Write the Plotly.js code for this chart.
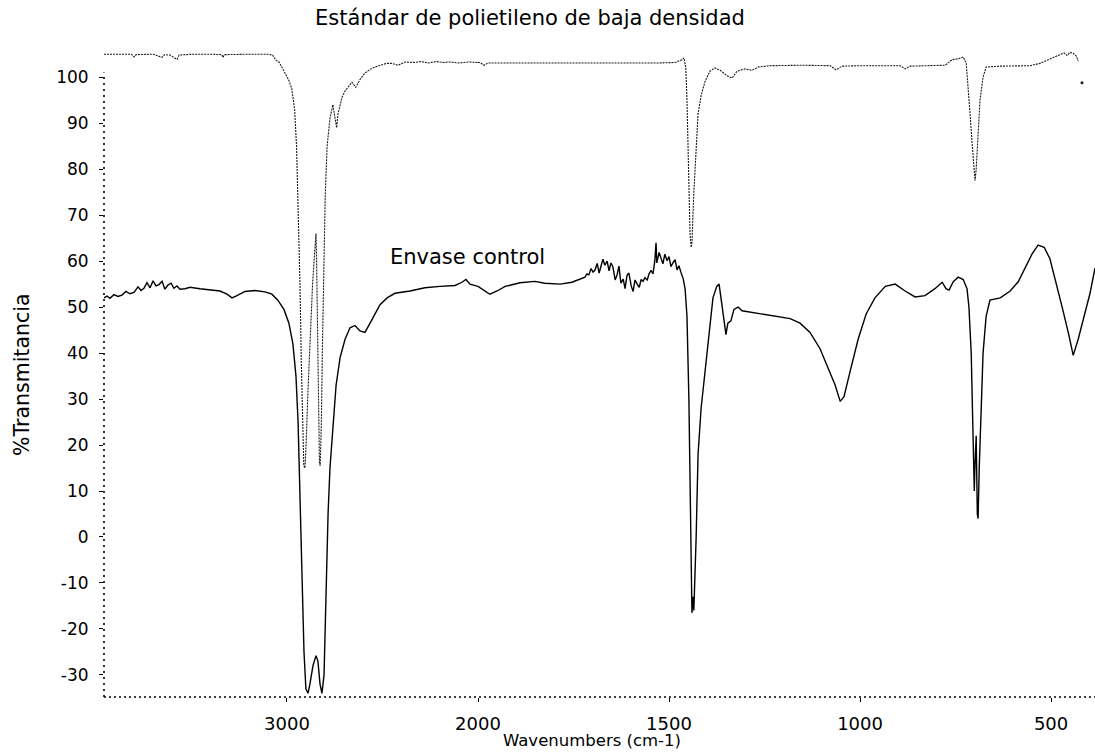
<!DOCTYPE html>
<html>
<head>
<meta charset="utf-8">
<script src="https://cdn.plot.ly/plotly-3.0.1.min.js"></script>
<style>html,body{margin:0;padding:0;background:#fff;}#chart{width:1095px;height:755px;}</style>
</head>
<body>
<div id="chart"></div>
<script>
// ---- Data ----
// Estándar de polietileno de baja densidad (upper trace)
const stdWn = [3958,3880,3815,3800,3790,3700,3655,3640,3610,3590,3575,3565,3500,3400,3340,3335,3328,3200,3100,3075,3060,3040,3025,3010,2990,2975,2960,2950,2940,2932,2925,2918,2912,2906,2900,2890,2878,2866,2855,2848,2845,2840,2835,2830,2826,2820,2815,2808,2800,2790,2775,2760,2740,2733,2712,2696,2680,2660,2640,2618,2592,2565,2540,2513,2480,2450,2420,2380,2330,2300,2260,2220,2180,2150,2100,2050,2000,
  1995,1984,1974,1900,1785,1700,1628,1524,1484,1466,1461,1456,1453,1450,1448,1445,1442,1440,1435,1429,1424,1416,1406,1393,1380,1366,1348,1335,1322,1301,1283,1267,1236,1150,1078,1063,1047,1000,895,882,869,777,759,743,730,722,717,712,707,701,699,696,691,686,678,670,633,555,529,508,490,476,466,458,450,442,434,429];
const stdT  = [105.0,105.0,105.0,104.4,104.9,105.0,104.3,104.9,104.8,104.2,103.9,104.8,105.0,105.0,104.9,104.3,104.9,105.0,105.0,104.8,103.8,103.2,102.0,101.0,99.3,97.5,93,85,70,55,38,22,15.5,15,20,32,45,55,62,66,60,45,30,16,15.5,25,40,60,74,85,91,94,89,92,95.6,97.0,97.8,98.9,97.8,99.5,100.9,101.7,102.2,102.6,103,103,102.6,103.3,103.2,103.4,103.1,103.4,103.2,103.3,103.1,103.3,103.2,
  103.2,102.6,103.1,103.1,103.1,103.0,103.1,103.1,103.2,103.8,104.2,102,95,85,75,66,63,64,75,85,92,96,99,101.3,102,101.5,100.3,99.8,101.3,101.8,101.5,102.2,102.5,102.6,102.5,101.6,102.4,102.5,102.5,101.8,102.4,102.6,103.8,104.0,104.4,103,98,92,86,78.5,77.5,80,88,95,100,102.2,102.4,102.5,103,103.8,104.4,105,105.3,104.7,105.4,105.2,104.6,103.5];
const stdDotWn = [419];
const stdDotT  = [98.8];

// Envase control (lower trace)
const ctrlWn = [3958,3942,3927,3906,3885,3864,3843,3822,3801,3780,3764,3749,3733,3717,3701,3686,3670,3654,3639,3623,3607,3592,3576,3560,3534,3508,3456,3403,3351,3314,3288,3262,3220,3168,3115,3079,3048,3016,2990,2969,2953,2942,2932,2922,2911,2901,2890,2880,2864,2848,2838,2827,2817,2806,2796,2785,2775,2759,2743,2722,2696,2670,2644,2618,2592,2565,2539,2513,2476,2435,2356,2278,2199,2120,2084,2063,2042,2000,
  1984,1969,1950,1929,1890,1851,1825,1785,1754,1733,
  1720,1715,1710,1704,1699,1694,1688,1683,1678,1673,1668,1662,1657,1652,1647,1641,1636,1631,1626,1620,1615,1610,1605,1599,1594,1589,1584,1578,1573,1568,1563,1557,1552,1547,1542,1537,1534,1532,1526,1521,1516,1511,1505,1500,1495,1489,1484,1479,1474,1469,1463,1458,
  1453,1448,1445,1442,1440,1437,1435,1429,1424,1416,1406,1395,1385,1375,1369,1364,1356,1351,1346,1338,1330,1319,1309,1293,1262,1223,1183,1157,1131,1105,1084,1065,1052,1042,1026,1005,984,961,934,908,882,856,830,804,785,775,767,756,743,730,720,715,709,704,701,699,696,693,691,688,683,678,670,
  660,633,607,586,568,550,534,518,503,487,471,455,442,429,414,398,385];
const ctrlT  = [52.0,52.4,51.9,52.7,52.3,52.6,53.4,52.9,53.2,54.4,53.6,54.1,55.3,54.2,55.7,54.6,54.9,55.6,53.9,54.8,55.2,54.1,54.6,53.9,54.0,54.3,54.0,53.8,53.5,52.8,52.0,52.5,53.4,53.6,53.3,52.8,51.5,49.5,46.5,42,35,25,10,-8,-25,-33,-34,-32,-28,-25.8,-27,-32,-34,-30,-10,5,15,25,33,39,43,45.5,46,44.8,44.5,46.5,48.5,50.5,52,53,53.5,54.2,54.5,54.7,55.4,56.0,55.0,54.5,
  53.6,52.8,53.5,54.5,55.3,55.6,55.2,55.0,55.4,56,
  56.5,57.2,57.0,58.4,57.6,58.0,59.5,57.4,58.8,60.4,59.1,60.0,57.9,59.6,58.8,55.9,57.0,58.9,55.2,56.1,54.0,56.9,57.4,54.6,53.4,55.9,55.1,54.3,56.0,55.6,56.4,55.9,57.3,58.0,57.2,60.2,64,59.6,61.9,60.7,59.4,61.5,60.1,61.0,58.8,59.7,60.3,58.1,59.0,57.6,56.2,54,
  48,30,10,-12,-16.5,-13,-16,0,18,28,36,45,52,54.5,55,52,47,44,46.5,47,49.5,50,49.2,49,48.5,48,47.5,46.5,44.5,41,37,33,29.5,30.5,36,43,48.5,52,54.5,55,53.5,52.2,52.5,54,55.4,54,53.7,55.5,56.5,56,54,50,40,23,10,16,22,5,4,15,30,40,48,
  51.5,52,53.5,55.5,58.5,61.5,63.5,63,60.5,55.5,50,44.5,39.5,43,48,53,58.5];

// Axis ticks and the scale break (the x scale is halved above 2000 cm-1)
const xBreak = 2000;
const xRangeHi = [3958, 2000];
const xRangeLo = [2000, 385];
const tickHi = [3000];
const tickLo = [2000, 1500, 1000, 500];
const yTicks = [-30,-20,-10,0,10,20,30,40,50,60,70,80,90,100];

// ---- Build traces ----
function part(wn, t, hi) {
  const xs = [], ys = [];
  wn.forEach((w, i) => { if (hi ? w >= xBreak : w <= xBreak) { xs.push(w); ys.push(t[i]); } });
  return {xs, ys};
}
const stdStyle = {color: '#1a1a1a', width: 1.1, dash: '2px,1px'};
const ctrlStyle = {color: '#000000', width: 1.4};
const sH = part(stdWn, stdT, true), sL = part(stdWn, stdT, false);
const cH = part(ctrlWn, ctrlT, true), cL = part(ctrlWn, ctrlT, false);
const traces = [
  {x: sH.xs, y: sH.ys, xaxis: 'x', yaxis: 'y', mode: 'lines', line: stdStyle, name: 'Estándar', showlegend: false},
  {x: sL.xs, y: sL.ys, xaxis: 'x2', yaxis: 'y', mode: 'lines', line: stdStyle, name: 'Estándar', showlegend: false},
  {x: stdDotWn, y: stdDotT, xaxis: 'x2', yaxis: 'y', mode: 'markers', marker: {color: '#1a1a1a', size: 3}, showlegend: false},
  {x: cH.xs, y: cH.ys, xaxis: 'x', yaxis: 'y', mode: 'lines', line: ctrlStyle, name: 'Envase control', showlegend: false},
  {x: cL.xs, y: cL.ys, xaxis: 'x2', yaxis: 'y', mode: 'lines', line: ctrlStyle, name: 'Envase control', showlegend: false}
];

const FONT = 'DejaVu Sans, Arial, sans-serif';
const split = 374 / 991;
const axCommon = {
  showgrid: false, zeroline: false, showline: false,
  ticks: 'outside', ticklen: 4, tickcolor: '#000',
  tickfont: {family: FONT, size: 18, color: '#000'}, ticklabelstandoff: 6
};
const layout = {
  width: 1095, height: 755,
  margin: {l: 104, r: 0, t: 45, b: 58},
  paper_bgcolor: '#fff', plot_bgcolor: '#fff',
  showlegend: false,
  title: {text: 'Estándar de polietileno de baja densidad', x: 0.484, xanchor: 'center', y: 0.976, yanchor: 'middle',
          font: {family: FONT, size: 21, color: '#000'}},
  xaxis: Object.assign({}, axCommon, {domain: [0, split], range: xRangeHi, tickmode: 'array', tickvals: tickHi, ticktext: tickHi.map(String), anchor: 'y'}),
  xaxis2: Object.assign({}, axCommon, {domain: [split, 1], range: xRangeLo, tickmode: 'array', tickvals: tickLo, ticktext: tickLo.map(String), anchor: 'y'}),
  yaxis: Object.assign({}, axCommon, {range: [-34.8, 107], tickmode: 'array', tickvals: yTicks, ticktext: yTicks.map(String),
          tickfont: {family: FONT, size: 17, color: '#000'}, ticklabelstandoff: 7}),
  shapes: [
    {type: 'line', xref: 'paper', yref: 'y', x0: 0, x1: 0, y0: -34.8, y1: 101, line: {color: '#000', width: 1.6, dash: '2px,4px'}},
    {type: 'line', xref: 'paper', yref: 'paper', x0: 0, x1: 1, y0: 0, y1: 0, line: {color: '#000', width: 1.6, dash: '2px,3px'}}
  ],
  annotations: [
    {text: 'Envase control', xref: 'x', yref: 'y', x: 2471, y: 61, xanchor: 'left', yanchor: 'middle', showarrow: false,
     font: {family: FONT, size: 21, color: '#000'}},
    {text: '%Transmitancia', xref: 'paper', yref: 'paper', x: -0.0827, y: 0.494, xanchor: 'center', yanchor: 'middle', textangle: -90, showarrow: false,
     font: {family: FONT, size: 20.5, color: '#000'}},
    {text: 'Wavenumbers (cm-1)', xref: 'paper', yref: 'paper', x: 0.4924, y: -0.066, xanchor: 'center', yanchor: 'middle', showarrow: false,
     font: {family: FONT, size: 16.5, color: '#000'}}
  ]
};
Plotly.newPlot('chart', traces, layout, {displayModeBar: false, staticPlot: true});
</script>
</body>
</html>
